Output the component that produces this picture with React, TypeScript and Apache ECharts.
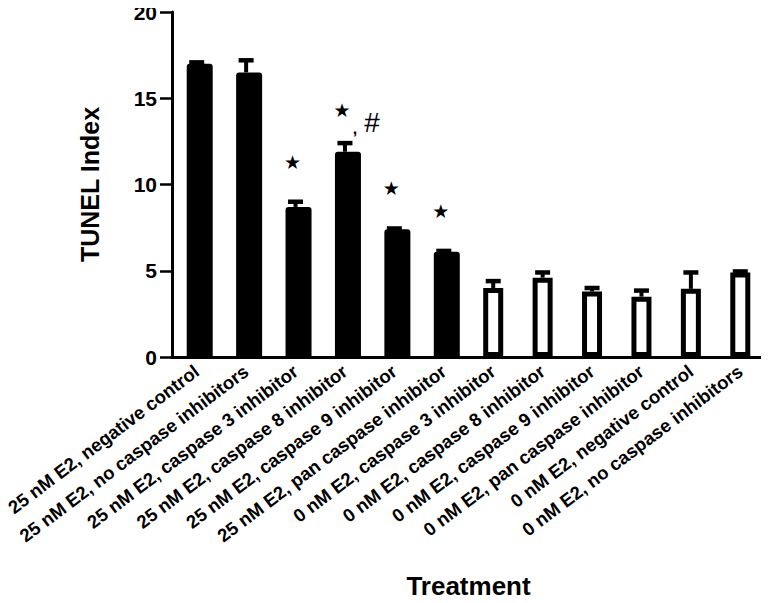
import React, { useEffect, useRef } from "react";
import * as echarts from "echarts";

const categories = [
  "25 nM E2, negative control",
  "25 nM E2, no caspase inhibitors",
  "25 nM E2, caspase 3 inhibitor",
  "25 nM E2, caspase 8 inhibitor",
  "25 nM E2, caspase 9 inhibitor",
  "25 nM E2, pan caspase inhibitor",
  "0 nM E2, caspase 3 inhibitor",
  "0 nM E2, caspase 8 inhibitor",
  "0 nM E2, caspase 9 inhibitor",
  "0 nM E2, pan caspase inhibitor",
  "0 nM E2, negative control",
  "0 nM E2, no caspase inhibitors",
];
const means = [17.0, 16.5, 8.7, 11.9, 7.4, 6.1, 4.0, 4.6, 3.8, 3.5, 3.95, 4.9];
const errors = [0.08, 0.7, 0.3, 0.5, 0.05, 0.05, 0.4, 0.3, 0.2, 0.35, 0.95, 0.06];
const filled = [true, true, true, true, true, true, false, false, false, false, false, false];
const annotations = ["", "", "★", "★,#", "★", "★", "", "", "", "", "", ""];
const yTicks = { min: 0, max: 20, interval: 5 };

export default function App() {
  const ref = useRef<HTMLDivElement>(null);
  useEffect(() => {
    if (!ref.current) return;
    const chart = echarts.init(ref.current, null, { renderer: "svg" });
    const font = "Liberation Sans, Arial, sans-serif";
    chart.setOption({
      animation: false,
      backgroundColor: "#fff",
      grid: {
        left: 172,
        right: 4,
        top: 12,
        bottom: 246,
        containLabel: false,
        outerBoundsMode: "none",
      },
      xAxis: {
        type: "category",
        data: categories,
        name: "Treatment",
        nameLocation: "middle",
        nameGap: 216,
        nameTextStyle: { fontFamily: font, fontWeight: "bold", fontSize: 26, color: "#000" },
        axisLine: { lineStyle: { color: "#000", width: 3 } },
        axisTick: { alignWithLabel: true, length: 9, lineStyle: { color: "#000", width: 3 } },
        axisLabel: {
          rotate: 37,
          interval: 0,
          margin: 12,
          fontFamily: font,
          fontWeight: "bold",
          fontSize: 18.5,
          color: "#000",
        },
      },
      yAxis: {
        type: "value",
        min: yTicks.min,
        max: yTicks.max,
        interval: yTicks.interval,
        name: "TUNEL Index",
        nameLocation: "middle",
        nameGap: 70,
        nameTextStyle: { fontFamily: font, fontWeight: "bold", fontSize: 25, color: "#000" },
        splitLine: { show: false },
        axisLine: { show: true, lineStyle: { color: "#000", width: 3 } },
        axisTick: { show: true, length: 12, lineStyle: { color: "#000", width: 2.5 } },
        axisLabel: { fontFamily: font, fontWeight: "bold", fontSize: 21, color: "#000", margin: 15 },
      },
      series: [
        {
          type: "bar",
          data: means.map((v, i) => (filled[i] ? v : "-")),
          barWidth: 26,
          barGap: "-100%",
          itemStyle: { color: "#000", borderRadius: [3, 3, 0, 0] },
        },
        {
          type: "bar",
          data: means.map((v, i) => (!filled[i] ? v : "-")),
          barWidth: 20,
          barGap: "-100%",
          itemStyle: { color: "#fff", borderColor: "#000", borderWidth: 5 },
        },
        {
          type: "custom",
          data: means.map((m, i) => [i, m, errors[i]]),
          encode: { x: 0, y: 1 },
          z: 5,
          renderItem: (params: any, api: any) => {
            const idx = api.value(0);
            const m = api.value(1);
            const e = api.value(2);
            const base = api.coord([idx, m]);
            const top = api.coord([idx, m + e]);
            const children: any[] = [
              {
                type: "line",
                shape: { x1: base[0], y1: base[1], x2: top[0], y2: top[1] },
                style: { stroke: "#000", lineWidth: 4 },
              },
              {
                type: "line",
                shape: { x1: top[0] - 7.5, y1: top[1], x2: top[0] + 7.5, y2: top[1] },
                style: { stroke: "#000", lineWidth: 4.5 },
              },
            ];
            const ann = annotations[params.dataIndex];
            const starStyle = {
              fontFamily: "DejaVu Sans",
              fontSize: 19,
              fill: "#000",
              align: "center",
              verticalAlign: "middle",
            };
            if (ann) {
              const parts = ann.split(",");
              if (parts.length === 1) {
                children.push({
                  type: "text",
                  x: top[0] - 3,
                  y: top[1] - 40,
                  style: { ...starStyle, text: parts[0] },
                });
              } else {
                children.push({
                  type: "text",
                  x: top[0] - 3,
                  y: top[1] - 33,
                  style: { ...starStyle, text: parts[0] },
                });
                children.push({
                  type: "text",
                  x: top[0] + 10,
                  y: top[1] - 7,
                  style: {
                    text: ",",
                    fontFamily: font,
                    fontWeight: "bold",
                    fontSize: 16,
                    fill: "#000",
                    align: "center",
                    verticalAlign: "bottom",
                  },
                });
                children.push({
                  type: "text",
                  x: top[0] + 27,
                  y: top[1] - 21,
                  style: {
                    text: parts[1],
                    fontFamily: font,
                    fontSize: 28,
                    fill: "#000",
                    align: "center",
                    verticalAlign: "middle",
                  },
                });
              }
            }
            return { type: "group", children };
          },
        },
      ],
    });
    return () => chart.dispose();
  }, []);
  return <div ref={ref} style={{ width: 769, height: 603, margin: -8 }} />;
}
